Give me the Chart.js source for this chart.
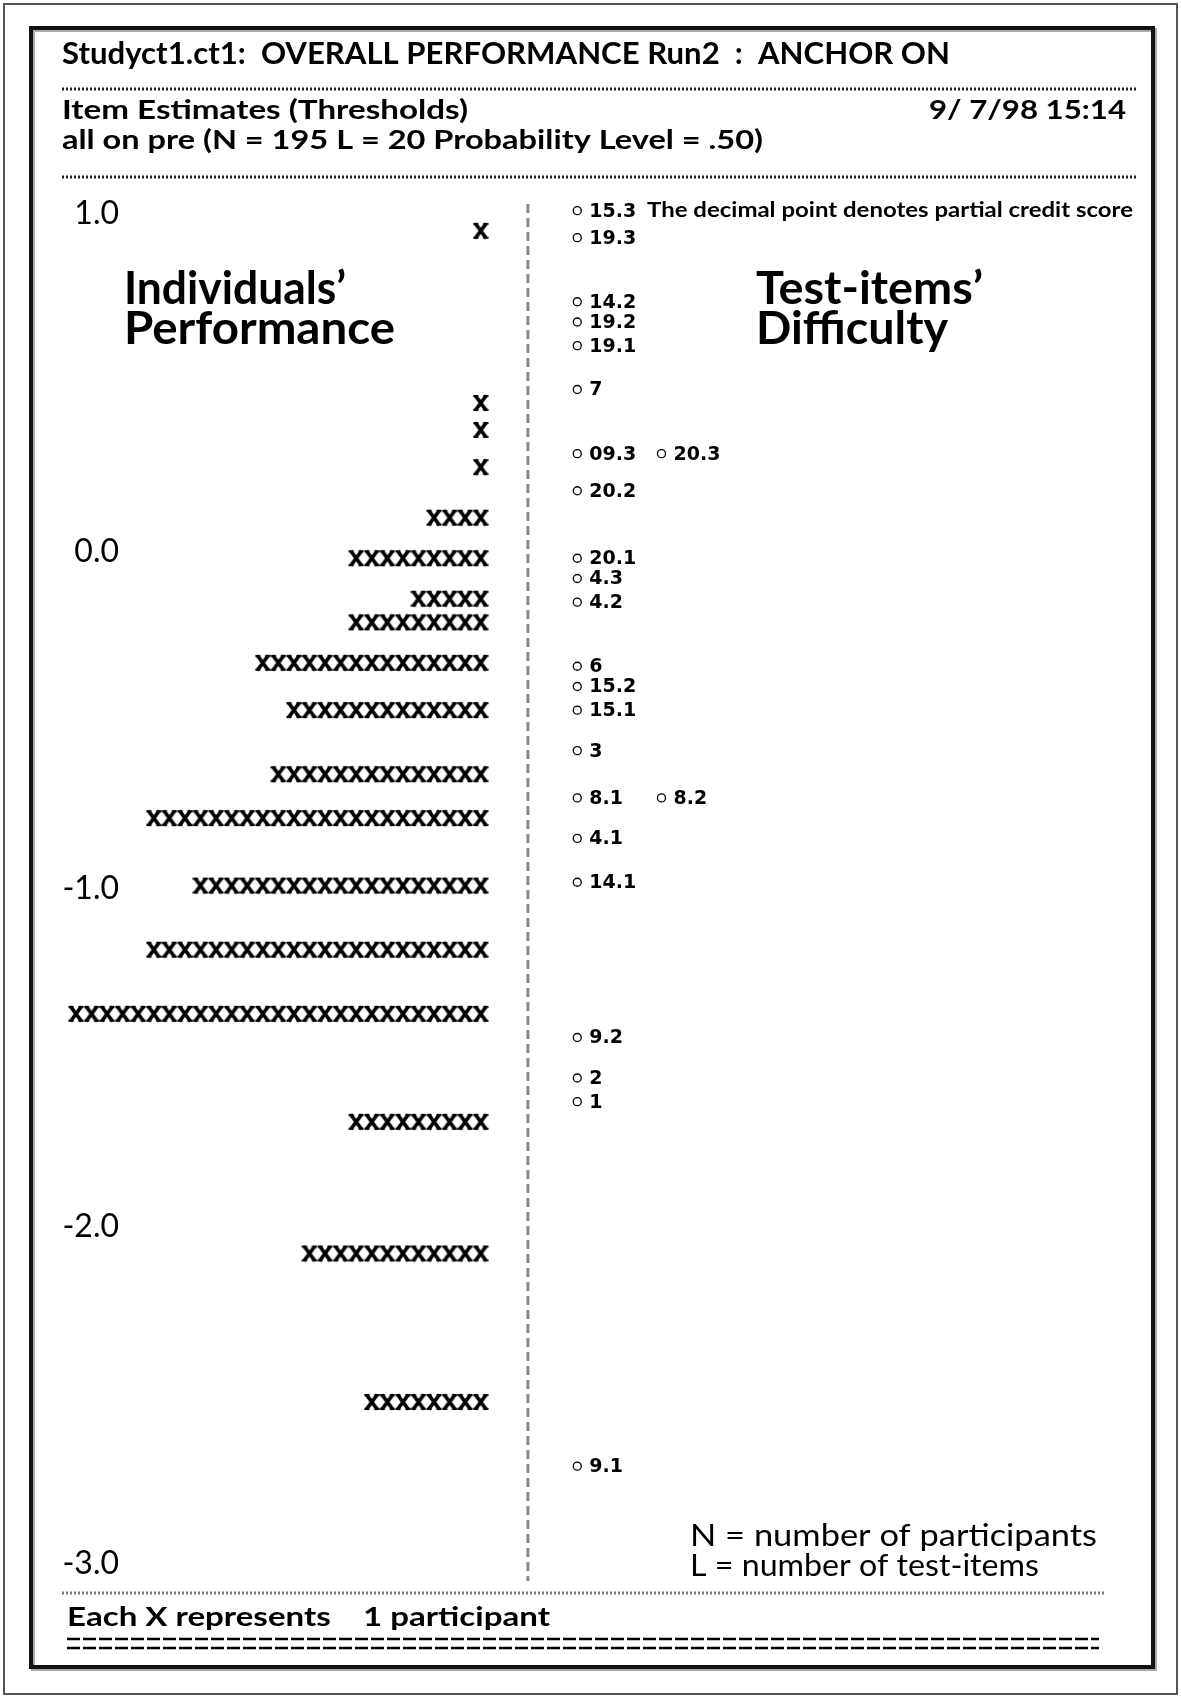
<!DOCTYPE html>
<html><head><meta charset="utf-8">
<script src="https://cdn.jsdelivr.net/npm/chart.js@4.4.0/dist/chart.umd.min.js"></script>
<style>html,body{margin:0;padding:0;background:#fff;}#wrap{width:1181px;height:1698px;}</style>
</head><body><div id="wrap"><canvas id="c" width="1181" height="1698"></canvas></div>
<script>
// ---- data ----
const personLevels = [0.95, 0.44, 0.36, 0.25, 0.10, -0.02, -0.14, -0.21, -0.33, -0.47, -0.66, -0.79, -0.99, -1.18, -1.37, -1.69, -2.08, -2.52];
const personCounts = [1, 1, 1, 1, 4, 9, 5, 9, 15, 13, 14, 22, 19, 22, 27, 9, 12, 8];
const itemLabels = ['15.3','19.3','14.2','19.2','19.1','7','09.3','20.3','20.2','20.1','4.3','4.2','6','15.2','15.1','3','8.1','8.2','4.1','14.1','9.2','2','1','9.1'];
const itemDifficulty = [1.01, 0.93, 0.74, 0.68, 0.61, 0.48, 0.29, 0.29, 0.18, -0.02, -0.08, -0.15, -0.34, -0.40, -0.47, -0.59, -0.73, -0.73, -0.85, -0.98, -1.44, -1.56, -1.63, -2.71];
const itemColumn = [0,0,0,0,0,0,0,1,0,0,0,0,0,0,0,0,0,1,0,0,0,0,0,0];
const yTickValues = [1, 0, -1, -2, -3];
const yTickLabels = ['1.0', '0.0', '-1.0', '-2.0', '-3.0'];

// ---- layout / style ----
const X_MIN = -30.8, X_MAX = 43.9;      // x scale in "character columns"
const ITEM_X0 = 5.7, ITEM_STEP = 5.41, DIVIDER_X = 2.53;

// bold "X" glyph used as point style
const xGlyph = document.createElement('canvas');
xGlyph.width = 16; xGlyph.height = 18;
(function(){
  const g = xGlyph.getContext('2d');
  g.strokeStyle = '#000'; g.lineWidth = 3.8; g.lineCap = 'butt';
  g.beginPath();
  g.moveTo(2.5, 1.5); g.lineTo(13.5, 16.5);
  g.moveTo(13.5, 1.5); g.lineTo(2.5, 16.5);
  g.stroke();
  g.fillStyle = '#000';
  g.fillRect(0.5, 1, 5, 2.2); g.fillRect(10.5, 1, 5, 2.2);
  g.fillRect(0.5, 14.8, 5, 2.2); g.fillRect(10.5, 14.8, 5, 2.2);
})();

const personPoints = [];
personLevels.forEach((lv, i) => {
  for (let k = 0; k < personCounts[i]; k++) personPoints.push({x: -(k + 0.5), y: lv});
});
const itemPoints = itemDifficulty.map((d, i) => ({x: ITEM_X0 + itemColumn[i] * ITEM_STEP, y: d}));

function fitText(ctx, text, x, y, w, font) {
  ctx.save();
  ctx.font = font; ctx.textAlign = 'left'; ctx.textBaseline = 'alphabetic'; ctx.fillStyle = '#000';
  const m = ctx.measureText(text).width;
  ctx.translate(x, y); ctx.scale(w / m, 1); ctx.fillText(text, 0, 0);
  ctx.restore();
}
function dotted(ctx, x1, x2, y, color, w, dash) {
  ctx.save(); ctx.strokeStyle = color; ctx.lineWidth = w; ctx.setLineDash(dash);
  ctx.beginPath(); ctx.moveTo(x1, y); ctx.lineTo(x2, y); ctx.stroke(); ctx.restore();
}

const decor = {
  id: 'decor',
  beforeDraw(chart) {
    const ctx = chart.ctx;
    ctx.save();
    ctx.fillStyle = '#fff'; ctx.fillRect(0, 0, chart.width, chart.height);
    ctx.strokeStyle = '#555'; ctx.lineWidth = 2; ctx.strokeRect(4, 4, 1173, 1690);
    ctx.strokeStyle = '#aaa'; ctx.lineWidth = 4; ctx.strokeRect(33, 30, 1122, 1639);
    ctx.strokeStyle = '#111'; ctx.lineWidth = 4; ctx.strokeRect(31, 28, 1122, 1639);
    ctx.restore();

    const F = '"Lato", "Open Sans", sans-serif';
    fitText(ctx, 'Studyct1.ct1:  OVERALL PERFORMANCE Run2  :  ANCHOR ON', 62, 64, 888, 'bold 30px ' + F);
    dotted(ctx, 62, 1137, 89, '#222', 3, [2, 2]);
    fitText(ctx, 'Item Estimates (Thresholds)', 62, 119, 406, 'bold 26px ' + F);
    fitText(ctx, '9/ 7/98 15:14', 929, 119, 197, 'bold 26px ' + F);
    fitText(ctx, 'all on pre (N = 195 L = 20 Probability Level = .50)', 62, 149, 701, 'bold 26px ' + F);
    dotted(ctx, 62, 1137, 177, '#222', 3, [2, 2]);

    fitText(ctx, 'Individuals\u2019', 124, 304, 222, 'bold 45px ' + F);
    fitText(ctx, 'Performance', 124, 344, 271, 'bold 45px ' + F);
    fitText(ctx, 'Test-items\u2019', 756, 304, 227, 'bold 45px ' + F);
    fitText(ctx, 'Difficulty', 756, 344, 192, 'bold 45px ' + F);

    fitText(ctx, 'N = number of participants', 690, 1546, 407, '30px ' + F);
    fitText(ctx, 'L = number of test-items', 690, 1576, 349, '30px ' + F);

    dotted(ctx, 62, 1104, 1593, '#777', 3, [2, 2]);
    fitText(ctx, 'Each X represents    1 participant', 67, 1626, 483, 'bold 27px ' + F);
    dotted(ctx, 67, 1099, 1639, '#000', 2.5, [13, 3]);
    dotted(ctx, 67, 1099, 1648, '#000', 2.5, [13, 3]);

    const ys = chart.scales.y;
    ctx.save();
    ctx.font = '32px ' + F; ctx.fillStyle = '#000'; ctx.textAlign = 'right'; ctx.textBaseline = 'middle';
    yTickValues.forEach((v, i) => ctx.fillText(yTickLabels[i], 119, ys.getPixelForValue(v)));
    ctx.restore();

    const m = chart.getDatasetMeta(1).data[0];
    ctx.save();
    ctx.font = 'bold 20px "Lato", "Open Sans", sans-serif';
    const t = 'The decimal point denotes partial credit score';
    const w = ctx.measureText(t).width;
    ctx.translate(647, m.y); ctx.scale(486 / w, 1);
    ctx.textBaseline = 'middle'; ctx.fillStyle = '#000'; ctx.fillText(t, 0, 0);
    ctx.restore();
  },
  beforeDatasetsDraw(chart) {
    const ctx = chart.ctx, xs = chart.scales.x, ys = chart.scales.y;
    const px = xs.getPixelForValue(DIVIDER_X);
    ctx.save(); ctx.strokeStyle = '#8a8a8a'; ctx.lineWidth = 3; ctx.setLineDash([9, 5]);
    ctx.beginPath(); ctx.moveTo(px, ys.getPixelForValue(1.03)); ctx.lineTo(px, ys.getPixelForValue(-3.05)); ctx.stroke();
    ctx.restore();
  },
  afterDatasetsDraw(chart) {
    const ctx = chart.ctx;
    const meta = chart.getDatasetMeta(1);
    ctx.save();
    ctx.font = 'bold 19px "DejaVu Sans", sans-serif'; ctx.fillStyle = '#000';
    ctx.textAlign = 'left'; ctx.textBaseline = 'middle';
    meta.data.forEach((el, i) => ctx.fillText(itemLabels[i], el.x + 12, el.y + 1));
    ctx.restore();
  }
};

new Chart(document.getElementById('c'), {
  type: 'scatter',
  data: {
    datasets: [
      { label: 'Individuals', data: personPoints, pointStyle: xGlyph, pointRadius: 8, pointHoverRadius: 8 },
      { label: 'Items', data: itemPoints, pointStyle: 'circle', pointRadius: 4, pointHoverRadius: 4,
        borderColor: '#000', backgroundColor: '#fff', borderWidth: 1.3 }
    ]
  },
  options: {
    responsive: false, animation: false, devicePixelRatio: 1,
    layout: { padding: { left: 0, right: 0, top: 214, bottom: 134 } },
    plugins: { legend: { display: false }, tooltip: { enabled: false } },
    events: [],
    scales: {
      x: { type: 'linear', min: X_MIN, max: X_MAX, display: false },
      y: { type: 'linear', min: -3, max: 1, display: false }
    },
    elements: { point: { hitRadius: 0 } },
    clip: false
  },
  plugins: [decor]
});
</script>
</body></html>
